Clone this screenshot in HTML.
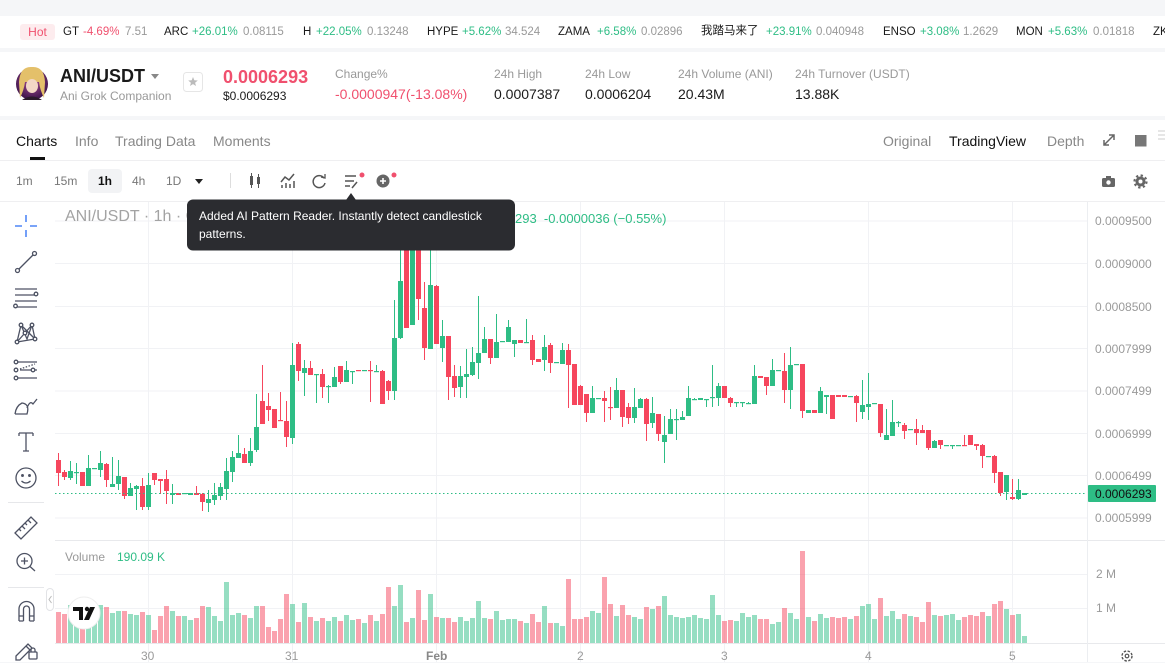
<!DOCTYPE html>
<html><head><meta charset="utf-8">
<style>
*{box-sizing:border-box;margin:0;padding:0}
html,body{width:1165px;height:662px;overflow:hidden;background:#f5f6f8;font-family:"Liberation Sans","Noto Sans CJK SC",sans-serif;color:#1a1a1a}
.t{position:absolute;white-space:nowrap;line-height:1}
.g{color:#2ebd85}.r{color:#f0506e}.gr{color:#999}
.bar{position:absolute;left:0;width:1165px;background:#fff}
</style></head><body>
<div class="bar" style="top:16px;height:32px"></div>
<div class="bar" style="top:52px;height:64px"></div>
<div class="bar" style="top:120px;height:542px"></div>

<!-- ticker -->
<div class="t" style="left:20px;top:24px;width:35px;height:16px;background:#fdecee;border-radius:3px;color:#f0506e;font-size:12px;line-height:16px;text-align:center">Hot</div>
<div style="font-size:11.5px">
<span class="t" style="left:63px;top:26.5px">GT</span><span class="t r" style="left:83px;top:26.5px">-4.69%</span><span class="t gr" style="left:125px;top:26.5px">7.51</span>
<span class="t" style="left:164px;top:26.5px">ARC</span><span class="t g" style="left:192px;top:26.5px">+26.01%</span><span class="t gr" style="left:243px;top:26.5px">0.08115</span>
<span class="t" style="left:303px;top:26.5px">H</span><span class="t g" style="left:316px;top:26.5px">+22.05%</span><span class="t gr" style="left:367px;top:26.5px">0.13248</span>
<span class="t" style="left:427px;top:26.5px">HYPE</span><span class="t g" style="left:462px;top:26.5px">+5.62%</span><span class="t gr" style="left:505px;top:26.5px">34.524</span>
<span class="t" style="left:558px;top:26.5px">ZAMA</span><span class="t g" style="left:597px;top:26.5px">+6.58%</span><span class="t gr" style="left:641px;top:26.5px">0.02896</span>
<span class="t" style="left:701px;top:25.5px">我踏马来了</span><span class="t g" style="left:766px;top:26.5px">+23.91%</span><span class="t gr" style="left:816px;top:26.5px">0.040948</span>
<span class="t" style="left:883px;top:26.5px">ENSO</span><span class="t g" style="left:920px;top:26.5px">+3.08%</span><span class="t gr" style="left:963px;top:26.5px">1.2629</span>
<span class="t" style="left:1016px;top:26.5px">MON</span><span class="t g" style="left:1048px;top:26.5px">+5.63%</span><span class="t gr" style="left:1093px;top:26.5px">0.01818</span>
<span class="t" style="left:1153px;top:26.5px">ZK</span>
</div>

<!-- header -->
<svg style="position:absolute;left:0;top:0" width="220" height="120">
<defs><radialGradient id="av" cx="50%" cy="40%" r="60%"><stop offset="0" stop-color="#b0529a"/><stop offset="1" stop-color="#3a1248"/></radialGradient></defs>
<circle cx="32" cy="84" r="16" fill="url(#av)"/>
<path d="M19,82 Q20,66 32,67 Q44,66 45,82 L44,98 Q40,90 39,82 L25,82 Q24,90 20,98Z" fill="#e4c06a"/>
<ellipse cx="32" cy="86" rx="6" ry="7" fill="#f3d8c6"/>
<path d="M22,100 Q32,93 42,100" fill="#2a1a2a"/>
<path d="M151,74 L159,74 L155,79Z" fill="#888"/>
<rect x="183.5" y="72.5" width="19" height="19" rx="3" fill="#fff" stroke="#e6e6e6"/>
<path d="M193,77 L194.3,80.3 L197.8,80.5 L195.1,82.7 L196,86 L193,84.1 L190,86 L190.9,82.7 L188.2,80.5 L191.7,80.3Z" fill="#bbb"/>
</svg>
<div class="t" style="left:60px;top:67px;font-size:18px;font-weight:bold">ANI/USDT</div>
<div class="t gr" style="left:60px;top:90px;font-size:12px">Ani Grok Companion</div>
<div class="t" style="left:223px;top:68px;font-size:18px;font-weight:bold;color:#f0506e">0.0006293</div>
<div class="t" style="left:223px;top:90px;font-size:12px">$0.0006293</div>
<div class="t gr" style="left:335px;top:68px;font-size:12px">Change%</div>
<div class="t r" style="left:335px;top:86.5px;font-size:14px">-0.0000947(-13.08%)</div>
<div class="t gr" style="left:494px;top:68px;font-size:12px">24h High</div>
<div class="t" style="left:494px;top:86.5px;font-size:14px">0.0007387</div>
<div class="t gr" style="left:585px;top:68px;font-size:12px">24h Low</div>
<div class="t" style="left:585px;top:86.5px;font-size:14px">0.0006204</div>
<div class="t gr" style="left:678px;top:68px;font-size:12px">24h Volume (ANI)</div>
<div class="t" style="left:678px;top:86.5px;font-size:14px">20.43M</div>
<div class="t gr" style="left:795px;top:68px;font-size:12px">24h Turnover (USDT)</div>
<div class="t" style="left:795px;top:86.5px;font-size:14px">13.88K</div>

<!-- tabs -->
<div class="t" style="left:16px;top:134px;font-size:14px;color:#111">Charts</div>
<div style="position:absolute;left:30px;top:157px;width:15px;height:2.5px;background:#111"></div>
<div class="t" style="left:75px;top:134px;font-size:14px;color:#888">Info</div>
<div class="t" style="left:115px;top:134px;font-size:14px;color:#888">Trading Data</div>
<div class="t" style="left:213px;top:134px;font-size:14px;color:#888">Moments</div>
<div class="t" style="left:883px;top:134px;font-size:14px;color:#888">Original</div>
<div class="t" style="left:949px;top:134px;font-size:14px;color:#111">TradingView</div>
<div class="t" style="left:1047px;top:134px;font-size:14px;color:#888">Depth</div>
<div style="position:absolute;left:0;top:160px;width:1165px;height:1px;background:#efeff1"></div>

<!-- toolbar -->
<div style="position:absolute;left:88px;top:169px;width:34px;height:24px;background:#f2f3f5;border-radius:4px"></div>
<div class="t" style="left:16px;top:175px;font-size:12px;color:#777">1m</div>
<div class="t" style="left:54px;top:175px;font-size:12px;color:#777">15m</div>
<div class="t" style="left:98px;top:175px;font-size:12px;color:#111;font-weight:bold">1h</div>
<div class="t" style="left:132px;top:175px;font-size:12px;color:#777">4h</div>
<div class="t" style="left:166px;top:175px;font-size:12px;color:#777">1D</div>
<div style="position:absolute;left:0;top:201px;width:1165px;height:1px;background:#efeff1"></div>

<svg style="position:absolute;left:0;top:0" width="1165" height="662">
<!-- toolbar icons -->
<path d="M195,179 L203,179 L199,184Z" fill="#222"/>
<rect x="230" y="173" width="1" height="15" fill="#ddd"/>
<g fill="#555" stroke="#555">
<rect x="250" y="176" width="3" height="9" stroke="none"/><rect x="251" y="173" width="1" height="15" stroke="none"/>
<rect x="257" y="177" width="3" height="7" stroke="none"/><rect x="258" y="174" width="1" height="14" stroke="none"/>
</g>
<g stroke="#555" stroke-width="1.5" fill="none">
<path d="M281,182 L285,177 L289,180 L294,174"/>
<path d="M282,188 V185 M286,188 V183 M290,188 V184 M294,188 V181"/>
<path d="M324,178 A6,6 0 1 0 325,183"/><path d="M321,177 L325,178 L325,174" stroke-width="1.3"/>
<path d="M345,176 H356 M345,181 H354 M345,186 H350"/><path d="M352,188 L357,182"/>
</g>
<circle cx="362" cy="175" r="2.5" fill="#f0506e"/>
<circle cx="383" cy="181" r="6.5" fill="#666"/><path d="M380,181 H386 M383,178 V184" stroke="#fff" stroke-width="1.6"/>
<circle cx="394" cy="175" r="2.5" fill="#f0506e"/>
<!-- right icons -->
<g stroke="#666" stroke-width="1.5" fill="none">
<path d="M1104,145 L1114,135 M1109,135 H1114 V140 M1104,140 V145 H1109"/>
</g>
<rect x="1135" y="135" width="11.5" height="11.5" fill="#777"/>
<path d="M1158,131 H1165 M1158,135 H1165 M1158,139 H1165" stroke="#ccc" stroke-width="1"/>
<rect x="1102" y="178" width="13" height="9" rx="1.5" fill="#666"/><rect x="1106" y="176" width="5" height="3" fill="#666"/><circle cx="1108.5" cy="182.5" r="2.2" fill="#fff"/>
<circle cx="1140.5" cy="181.5" r="5" fill="#666"/><circle cx="1140.5" cy="181.5" r="6" fill="none" stroke="#666" stroke-width="2.2" stroke-dasharray="2.3 2.4"/><circle cx="1140.5" cy="181.5" r="2" fill="#fff"/>

<!-- grid -->
<g fill="#f1f2f5">
<rect x="55" y="220.5" width="1032" height="1"/><rect x="55" y="263" width="1032" height="1"/><rect x="55" y="306" width="1032" height="1"/><rect x="55" y="348" width="1032" height="1"/><rect x="55" y="390.5" width="1032" height="1"/><rect x="55" y="433" width="1032" height="1"/><rect x="55" y="475" width="1032" height="1"/><rect x="55" y="517.5" width="1032" height="1"/>
<rect x="55" y="574" width="1032" height="1"/><rect x="55" y="608" width="1032" height="1"/>
<rect x="148" y="202" width="1" height="460"/><rect x="292" y="202" width="1" height="460"/><rect x="436" y="202" width="1" height="460"/><rect x="580" y="202" width="1" height="460"/><rect x="724" y="202" width="1" height="460"/><rect x="868" y="202" width="1" height="460"/><rect x="1012" y="202" width="1" height="460"/>
</g>
<rect x="55" y="540" width="1110" height="1" fill="#e8e9ec"/>
<rect x="55" y="643" width="1110" height="1" fill="#e8e9ec"/>
<rect x="1087" y="202" width="1" height="460" fill="#eceef1"/>

<g id="cg"></g>
<line x1="55" y1="493.5" x2="1087" y2="493.5" stroke="#2ebd85" stroke-width="1" stroke-dasharray="1.5 2.5"/>
<rect x="1088" y="485" width="68" height="17" rx="1" fill="#2ebd85"/>

<!-- left toolbar -->
<g stroke="#2a6df4" stroke-width="1.3">
<path d="M15,226 H22 M30,226 H37 M26,215 V222 M26,230 V237"/>
</g>
<g stroke="#4d5263" stroke-width="1.3" fill="none">
<path d="M19,269 L33,255"/><circle cx="17.5" cy="270.5" r="2"/><circle cx="34.5" cy="253.5" r="2"/>
<path d="M15,289 H37 M15,295 H37 M15,301 H37 M17,307 H37"/><circle cx="36" cy="294" r="1.8" fill="#fff"/><circle cx="15.5" cy="306" r="1.8" fill="#fff"/>
<path d="M17,342 L21,325 L27,339 L32,325 L35,339 L17,342 M21,325 L35,339 M32,325 L17,342"/><circle cx="17" cy="342" r="1.8" fill="#fff"/><circle cx="21" cy="325" r="1.8" fill="#fff"/><circle cx="32" cy="325" r="1.8" fill="#fff"/><circle cx="35" cy="339" r="1.8" fill="#fff"/><circle cx="25" cy="333" r="1.8" fill="#fff"/>
<path d="M15,362 H37 M20,370 H37 M15,378 H37"/><path d="M20,369 L35,364" stroke-dasharray="1.5 1.5"/><circle cx="16" cy="362" r="1.8" fill="#fff"/><circle cx="16" cy="370" r="1.8" fill="#fff"/><circle cx="33" cy="370" r="1.8" fill="#fff"/><circle cx="16" cy="378" r="1.8" fill="#fff"/>
<path d="M15,414 H27 Q30,404 22,403 Q16,406 15,414 M27,408 Q30,400 33,404 L37,399"/>
<path d="M19,433 H33 M26,433 V451 M23,451 H29 M19,433 V436 M33,433 V436"/>
<circle cx="26" cy="478" r="10"/><circle cx="22.5" cy="475.5" r="0.8" fill="#4d5263"/><circle cx="29.5" cy="475.5" r="0.8" fill="#4d5263"/><path d="M21.5,481 Q26,485 30.5,481"/>
<path d="M15,533 L31,517 L37,523 L21,539Z M19,529 L21,531 M22,526 L25,529 M25,523 L27,525 M28,520 L31,523"/>
<circle cx="24.5" cy="561" r="7.5"/><path d="M30,566.5 L35,571 M21,561 H28 M24.5,557.5 V564.5"/>
<path d="M19,621 V609 A7.5,7.5 0 0 1 34,609 V621 M19,616 H23.5 M29.5,616 H34 M23.5,621 V609 A3,3 0 0 1 29.5,609 V621 M19,621 H23.5 M29.5,621 H34"/>
<path d="M16,656 L28,644 L32,648 L20,660 H16Z M26,646 L30,650"/><rect x="29" y="652" width="8" height="7" rx="1"/><path d="M31,652 V650 A2,2 0 0 1 35,650 V652"/>
</g>
<rect x="8" y="502" width="36" height="1" fill="#e6e7ea"/>
<rect x="8" y="587" width="36" height="1" fill="#e6e7ea"/>
<rect x="46.5" y="588.5" width="7" height="22" rx="3.5" fill="#fff" stroke="#e2e3e6"/>
<path d="M51.5,596 L49,599.5 L51.5,603" stroke="#bbb" fill="none"/>

<!-- TV logo -->
<circle cx="84" cy="613" r="16" fill="#fff" stroke="#eee"/>
<path d="M73,607 H83 V620 H79 V611 H73Z" fill="#111"/><circle cx="87" cy="609" r="2.2" fill="#111"/><path d="M90,607 H95 L89,620 H84Z" fill="#111"/>

<!-- time axis gear -->
<circle cx="1127" cy="656" r="5" fill="none" stroke="#555" stroke-width="1.4" stroke-dasharray="2.5 1.5"/><circle cx="1127" cy="656" r="1.8" fill="none" stroke="#555" stroke-width="1.2"/>
</svg>

<!-- chart texts -->
<div class="t" style="left:65px;top:208.5px;font-size:16px;color:#a3a3a3">ANI/USDT · 1h · Gate</div>
<div class="t g" style="left:515px;top:212px;font-size:13px">293&nbsp;&nbsp;-0.0000036 (−0.55%)</div>

<!-- tooltip (on top of title) -->
<svg style="position:absolute;left:0;top:0" width="520" height="252">
<path d="M346,200 L351,193 L356,200Z" fill="#2b2c30"/>
<rect x="187" y="199.5" width="328" height="51" rx="6" fill="#2b2c30"/>
</svg>
<div class="t" style="left:199px;top:210px;font-size:12px;color:#fff">Added AI Pattern Reader. Instantly detect candlestick</div>
<div class="t" style="left:199px;top:228px;font-size:12px;color:#fff">patterns.</div>

<div style="font-size:12px;color:#9a9a9a">
<span class="t" style="left:1095px;top:215px">0.0009500</span>
<span class="t" style="left:1095px;top:257.5px">0.0009000</span>
<span class="t" style="left:1095px;top:300.5px">0.0008500</span>
<span class="t" style="left:1095px;top:342.5px">0.0007999</span>
<span class="t" style="left:1095px;top:385px">0.0007499</span>
<span class="t" style="left:1095px;top:427.5px">0.0006999</span>
<span class="t" style="left:1095px;top:469.5px">0.0006499</span>
<span class="t" style="left:1095px;top:512px">0.0005999</span>
<span class="t" style="left:1096px;top:568px">2 M</span>
<span class="t" style="left:1096px;top:602px">1 M</span>
<span class="t" style="left:141px;top:650px">30</span>
<span class="t" style="left:285px;top:650px">31</span>
<span class="t" style="left:426px;top:650px;font-weight:bold;color:#888">Feb</span>
<span class="t" style="left:577px;top:650px">2</span>
<span class="t" style="left:721px;top:650px">3</span>
<span class="t" style="left:865px;top:650px">4</span>
<span class="t" style="left:1009px;top:650px">5</span>
</div>
<div class="t" style="left:1095px;top:488px;font-size:12px;color:#111">0.0006293</div>
<div class="t gr" style="left:65px;top:551px;font-size:12px">Volume</div>
<div class="t g" style="left:117px;top:551px;font-size:12px">190.09 K</div>

<script>
const C=[[0,460,473,453,486],[0,472,477,470,480],[1,471,478,461,480],[1,472,473,463,484],[0,472,486,472,486],[1,468,486,455,486],[1,468,469,468,469],[1,463,470,451,477],[0,464,480,463,487],[1,484,487,457,487],
[1,476,484,460,490],[0,477,496,477,499],[1,488,496,483,496],[1,486,489,485,510],[0,486,507,478,510],[1,485,507,473,510],[0,473,480,473,485],[0,479,481,479,494],[0,479,491,470,504],[1,493,495,484,504],
[0,493,495,493,495],[1,493,494,493,494],[1,493,495,493,495],[0,493,495,486,495],[0,494,502,493,511],[1,499,503,490,512],[1,495,500,483,505],[1,487,496,483,500],[1,471,489,458,500],[1,457,472,451,482],
[1,453,458,435,458],[0,454,463,448,463],[1,451,463,438,466],[1,427,450,394,452],[0,401,424,365,424],[0,406,410,393,421],[0,409,428,409,428],[0,420,421,392,421],[0,421,437,401,447],[1,365,438,343,444],
[0,344,371,342,381],[1,368,373,360,396],[0,368,375,361,375],[1,374,375,374,403],[0,374,387,369,398],[1,386,387,385,403],[1,377,387,367,387],[0,366,382,366,384],[1,370,382,361,382],[1,371,372,371,384],
[0,370,371,370,371],[1,370,371,370,371],[0,370,371,361,402],[1,371,372,365,372],[0,371,404,370,404],[0,381,391,380,400],[1,338,391,300,400],[1,281,338,238,339],[0,245,328,232,328],[1,240,325,228,325],
[0,250,299,240,320],[0,308,348,282,360],[1,285,349,240,349],[0,286,344,285,344],[1,336,348,320,362],[0,336,377,336,400],[0,376,388,365,397],[1,376,387,366,398],[1,374,377,349,398],[1,362,375,347,376],
[1,353,363,296,379],[1,339,353,327,353],[0,339,358,339,364],[1,342,358,314,358],[1,341,342,341,342],[1,327,342,320,342],[1,340,344,340,357],[0,340,343,340,343],[1,342,343,319,343],[0,340,360,335,365],
[0,359,362,359,362],[1,347,360,335,371],[0,345,363,343,373],[1,362,363,362,363],[1,350,364,343,364],[0,350,365,344,408],[0,364,405,364,405],[0,386,405,385,405],[0,394,413,394,422],[1,398,413,386,413],
[1,398,399,398,399],[0,398,401,391,422],[0,407,408,387,420],[1,390,408,378,408],[0,390,417,390,427],[0,407,418,403,424],[1,407,418,388,423],[1,399,408,398,408],[0,399,424,398,441],[1,413,423,397,428],
[0,414,434,414,441],[1,435,442,416,463],[1,419,434,409,434],[1,419,420,409,440],[1,417,420,411,420],[1,398,416,386,416],[1,399,400,398,400],[1,398,400,398,400],[1,399,400,399,407],[1,397,398,365,407],
[1,386,398,383,406],[0,386,398,386,398],[0,398,403,397,407],[1,402,403,402,407],[1,402,403,402,407],[1,403,404,402,404],[1,376,404,365,404],[0,376,378,376,378],[0,377,386,377,395],[1,370,386,359,386],
[1,370,371,370,371],[0,371,390,353,403],[1,365,390,347,409],[1,364,365,364,365],[0,364,411,364,418],[1,410,413,410,413],[0,410,413,410,413],[1,391,413,387,413],[1,395,397,395,414],[0,395,419,395,419],
[0,395,397,395,397],[0,395,397,395,397],[1,396,397,396,397],[0,396,403,395,422],[1,405,412,380,419],[1,404,407,373,420],[1,403,404,403,404],[0,404,433,404,437],[1,435,440,409,440],[1,422,436,400,436],
[1,422,423,421,427],[0,425,431,423,439],[1,429,430,429,430],[0,429,433,419,445],[0,430,433,425,433],[0,430,448,430,450],[1,441,448,440,448],[0,440,445,440,449],[1,445,446,445,446],[1,445,446,445,449],
[1,445,446,445,446],[0,445,446,435,446],[0,435,445,435,445],[0,444,446,444,450],[0,445,456,444,468],[1,456,457,456,457],[0,456,473,455,483],[0,472,493,472,496],[1,475,492,475,500],[0,497,499,479,500],
[1,490,499,479,500],[1,493,495,493,495]];
const V=[612,614,605,610,608,612,610,605,607,613,611,611,614,615,612,615,630,616,606,611,616,616,620,618,606,607,616,621,582,615,
613,615,618,606,606,627,631,619,594,604,622,603,617,621,618,621,617,621,615,620,619,623,615,621,614,587,606,585,622,618,
590,620,594,617,618,618,622,617,621,618,601,618,619,611,620,619,619,621,623,614,622,606,623,623,626,579,619,619,617,611,
613,577,604,616,605,615,617,619,607,609,606,596,615,617,618,617,615,618,619,595,615,621,620,621,613,617,615,619,619,624,
622,608,613,619,551,617,621,614,618,617,618,617,619,616,606,604,619,598,616,611,619,614,616,617,622,602,615,616,615,614,
620,617,615,616,612,616,604,601,609,615,614,636];
let s='';
C.forEach((c,i)=>{
 const cx=58.5+6*i, col=c[0]?'#2ebd85':'#f6465d', vc=c[0]?'rgba(46,189,133,0.5)':'rgba(246,70,93,0.5)';
 s+='<rect x="'+(56+6*i)+'" y="'+V[i]+'" width="5" height="'+(643-V[i])+'" fill="'+vc+'"/>';
 s+='<rect x="'+(cx-0.5)+'" y="'+c[3]+'" width="1" height="'+Math.max(1,c[4]-c[3])+'" fill="'+col+'"/>';
 s+='<rect x="'+(cx-2.5)+'" y="'+c[1]+'" width="5" height="'+Math.max(1.2,c[2]-c[1])+'" fill="'+col+'"/>';
});
document.getElementById('cg').innerHTML=s;
</script>
</body></html>
